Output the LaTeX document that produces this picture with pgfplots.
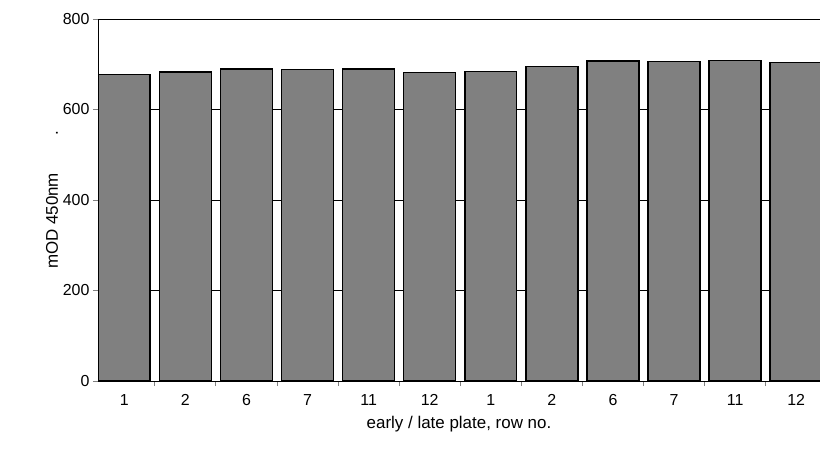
\documentclass[border=0pt]{standalone}
\usepackage{pgfplots}
\pgfplotsset{compat=1.18}
\usepackage{fontspec}
\setmainfont{Liberation Sans}
\definecolor{barg}{RGB}{128,128,128}
\newcommand\tf[1]{\mbox{\fontsize{16}{19}\selectfont #1}}
\begin{document}
\begin{tikzpicture}
\begin{axis}[name=ax,
  scale only axis, width=722bp, height=362bp,
  ybar, bar width=0.85, bar shift=0pt,
  xmin=-0.43, xmax=11.39, ymin=0, ymax=800,
  ytick={0,200,400,600,800},
  yticklabel={\fontsize{16}{19}\selectfont\pgfmathprintnumber[assume math mode=true]{\tick}},
  ymajorgrids, grid style={black, line width=0.5pt},
  axis x line*=bottom, axis y line*=left,
  axis line style={line width=0.8pt,-},
  xtick={0,...,11},
  xticklabels={\tf{1},\tf{2},\tf{6},\tf{7},\tf{11},\tf{12},\tf{1},\tf{2},\tf{6},\tf{7},\tf{11},\tf{12}},
  major x tick style={draw=none},
  minor xtick={-0.5,0.5,...,11.5},
  minor x tick style={line width=0.8pt},
  tick align=outside, major tick length=5bp, minor tick length=5bp,
  ytick style={line width=0.8pt},
  xticklabel style={yshift=-5bp},
  label style={font=\fontsize{17}{20}\selectfont},
  xlabel={early / late plate, row no.},
  ylabel={mOD 450nm\hspace{2.2em}.},
  xlabel style={yshift=-4bp},
  ylabel style={yshift=-2bp},
  clip=false,
]
\addplot[fill=barg, draw=black, line width=1.5pt] coordinates {
(0,677)(1,683)(2,690)(3,688)(4,689)(5,682)(6,684)(7,695)(8,707)(9,706)(10,708)(11,704)};
\end{axis}
\pgfresetboundingbox
\path[use as bounding box] (ax.south west) ++(-98bp,-87bp) rectangle ++(820bp,468bp);
\end{tikzpicture}
\end{document}
